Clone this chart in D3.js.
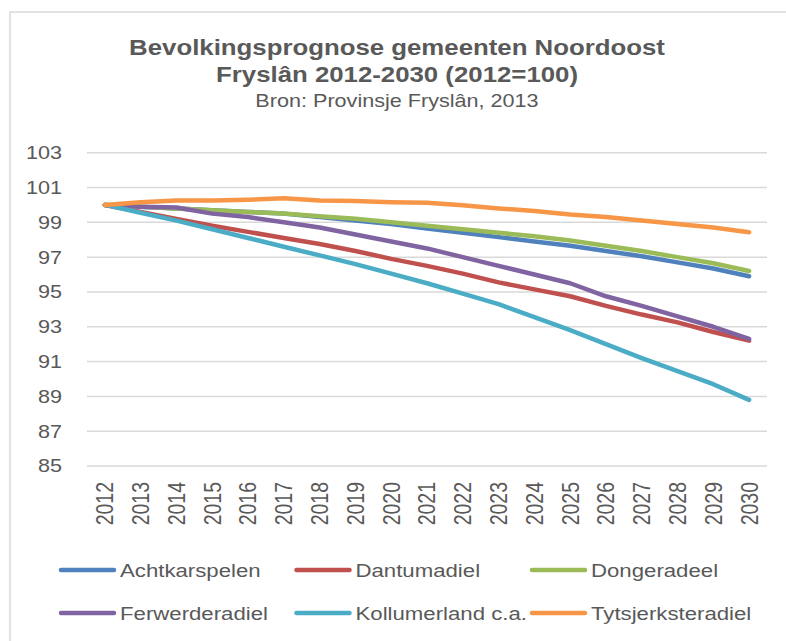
<!DOCTYPE html>
<html lang="nl">
  <head>
    <meta charset="UTF-8" />
    <title>Bevolkingsprognose gemeenten Noordoost Fryslân</title>
    <script src="https://d3js.org/d3.v7.min.js"></script>
    <style>
      body { margin: 0; background: #fff; }
      text { font-family: "Liberation Sans", Arial, sans-serif; fill: #595959; }
    </style>
  </head>
  <body>
    <svg width="786" height="641"></svg>

    <script>
      // data (index, 2012 = 100)
      const years = [2012, 2013, 2014, 2015, 2016, 2017, 2018, 2019, 2020, 2021,
                     2022, 2023, 2024, 2025, 2026, 2027, 2028, 2029, 2030];

      const achtkarspelen = [100, 99.9, 99.8, 99.7, 99.6, 99.5, 99.3, 99.1, 98.9, 98.65,
                             98.4, 98.15, 97.9, 97.65, 97.35, 97.05, 96.7, 96.35, 95.9];
      const dantumadiel = [100, 99.6, 99.2, 98.8, 98.45, 98.1, 97.75, 97.35, 96.9, 96.5,
                           96.05, 95.55, 95.15, 94.75, 94.2, 93.7, 93.25, 92.7, 92.2];
      const dongeradeel = [100, 99.9, 99.8, 99.7, 99.6, 99.5, 99.35, 99.2, 99.0, 98.8,
                           98.6, 98.4, 98.2, 97.95, 97.65, 97.35, 97.0, 96.65, 96.2];
      const ferwerderadiel = [100, 99.9, 99.85, 99.5, 99.3, 99.0, 98.7, 98.3, 97.9, 97.5,
                              97.0, 96.5, 96.0, 95.5, 94.75, 94.2, 93.6, 93.0, 92.3];
      const kollumerland = [100, 99.55, 99.1, 98.6, 98.1, 97.6, 97.1, 96.6, 96.05, 95.5,
                            94.9, 94.3, 93.55, 92.8, 92.0, 91.2, 90.45, 89.7, 88.8];
      const tytsjerksteradiel = [100, 100.15, 100.25, 100.25, 100.3, 100.38, 100.25, 100.22, 100.15, 100.12,
                                 99.98, 99.8, 99.65, 99.45, 99.3, 99.1, 98.9, 98.7, 98.43];

      const seriesNames = ["Achtkarspelen", "Dantumadiel", "Dongeradeel",
                           "Ferwerderadiel", "Kollumerland c.a.", "Tytsjerksteradiel"];
      const seriesValues = [achtkarspelen, dantumadiel, dongeradeel,
                            ferwerderadiel, kollumerland, tytsjerksteradiel];
      const colors = ["#4f81bd", "#c0504d", "#9bbb59", "#8064a2", "#4bacc6", "#f79646"];
      const yTicks = [85, 87, 89, 91, 93, 95, 97, 99, 101, 103];

      const svg = d3.select("svg");
      const stretch = 1.2; // text in the original is drawn a bit wide

      // chart frame
      svg.append("rect")
        .attr("x", 10).attr("y", 12)
        .attr("width", 800).attr("height", 660)
        .attr("fill", "#fff")
        .attr("stroke", "#d9d9d9")
        .attr("stroke-width", 1.5);

      // titles
      const cx = 397;
      const titles = [
        { t: "Bevolkingsprognose gemeenten Noordoost", y: 55, size: 21.5, bold: true },
        { t: "Fryslân 2012-2030 (2012=100)", y: 82, size: 21.5, bold: true },
        { t: "Bron: Provinsje Fryslân, 2013", y: 107, size: 18, bold: false }
      ];
      titles.forEach((d) => {
        svg.append("text")
          .attr("transform", `translate(${cx},${d.y}) scale(${stretch},1)`)
          .attr("text-anchor", "middle")
          .attr("font-size", d.size)
          .attr("font-weight", d.bold ? "bold" : "normal")
          .text(d.t);
      });

      // scales
      const x = d3.scaleBand().domain(years).range([87, 767]);
      const y = d3.scaleLinear().domain([85, 103]).range([466, 152.7]);
      const xc = (yr) => x(yr) + x.bandwidth() / 2;

      // gridlines
      svg.append("g")
        .selectAll("line")
        .data(yTicks)
        .join("line")
        .attr("x1", 87).attr("x2", 767)
        .attr("y1", (d) => y(d)).attr("y2", (d) => y(d))
        .attr("stroke", "#d9d9d9")
        .attr("stroke-width", 1.5);

      // y labels
      svg.append("g")
        .selectAll("text")
        .data(yTicks)
        .join("text")
        .attr("transform", (d) => `translate(62,${y(d)}) scale(${stretch},1)`)
        .attr("text-anchor", "end")
        .attr("dy", "0.36em")
        .attr("font-size", 18)
        .text((d) => d);

      // x labels, rotated
      svg.append("g")
        .selectAll("text")
        .data(years)
        .join("text")
        .attr("transform", (d) => `translate(${xc(d)},482) scale(${stretch},1) rotate(-90)`)
        .attr("text-anchor", "end")
        .attr("dy", "0.36em")
        .attr("font-size", 19.5)
        .text((d) => d);

      // lines
      const line = d3.line()
        .x((d, i) => xc(years[i]))
        .y((d) => y(d));

      svg.append("g")
        .selectAll("path")
        .data(seriesValues)
        .join("path")
        .attr("d", line)
        .attr("fill", "none")
        .attr("stroke", (d, i) => colors[i])
        .attr("stroke-width", 4.5)
        .attr("stroke-linejoin", "round")
        .attr("stroke-linecap", "round");

      // legend: 3 columns, 2 rows
      const legend = svg.append("g")
        .selectAll("g")
        .data(seriesNames)
        .join("g")
        .attr("transform", (d, i) => `translate(${61 + (i % 3) * 235.5},${570 + Math.floor(i / 3) * 43})`);

      legend.append("line")
        .attr("x1", 0).attr("x2", 53)
        .attr("stroke", (d, i) => colors[i])
        .attr("stroke-width", 4.5)
        .attr("stroke-linecap", "round");

      legend.append("text")
        .attr("transform", `translate(59,0) scale(${stretch},1)`)
        .attr("dy", "0.36em")
        .attr("font-size", 18.5)
        .text((d) => d);
    </script>
  </body>
</html>
